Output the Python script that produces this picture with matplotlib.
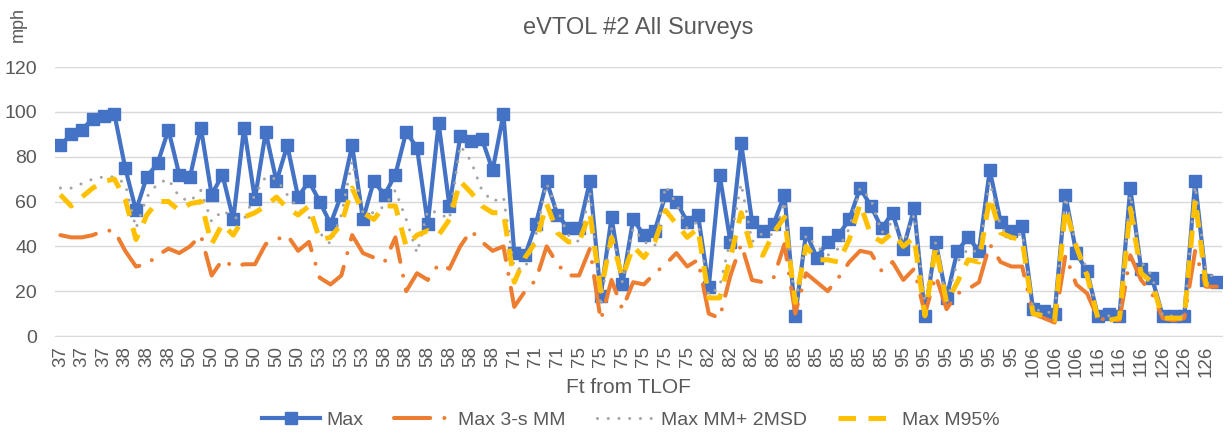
import matplotlib
matplotlib.use('Agg')
import matplotlib.pyplot as plt
import numpy as np

plt.rcParams['font.family'] = ['Liberation Sans', 'DejaVu Sans']

# category labels (ft from TLOF), one per survey point
ft = ([37] * 6 + [38] * 6 + [50] * 12 + [53] * 6 + [58] * 12 + [71] * 6 +
      [75] * 12 + [82] * 6 + [85] * 12 + [95] * 12 + [106] * 6 + [116] * 6 +
      [126] * 6)

max_mph = [85, 90, 92, 97, 98, 99, 75, 56, 71, 77, 92, 72, 71, 93, 63, 72, 52, 93,
           61, 91, 69, 85, 62, 69, 60, 50, 63, 85, 52, 69, 63, 72, 91, 84, 50, 95,
           58, 89, 87, 88, 74, 99, 37, 36, 50, 69, 54, 48, 48, 69, 18, 53, 23, 52,
           45, 47, 63, 60, 51, 54, 22, 72, 42, 86, 51, 47, 50, 63, 9, 46, 35, 42,
           45, 52, 66, 58, 48, 55, 39, 57, 9, 42, 17, 38, 44, 38, 74, 51, 47, 49,
           12, 11, 10, 63, 37, 29, 9, 10, 9, 66, 30, 26, 9, 9, 9, 69, 25, 24]

max_3s_mm = [45, 44, 44, 45, 47, 47, 38, 31, 32, 36, 39, 37, 40, 45, 27, 34, 31, 32,
             32, 41, 43, 45, 38, 42, 26, 23, 27, 45, 37, 35, 33, 44, 20, 28, 25, 32,
             30, 40, 47, 42, 38, 40, 13, 20, 25, 40, 32, 27, 27, 39, 7, 25, 12, 24,
             23, 28, 32, 37, 31, 34, 10, 8, 27, 41, 25, 24, 26, 41, 10, 28, 24, 20,
             26, 33, 38, 37, 29, 33, 25, 30, 10, 27, 12, 19, 21, 24, 41, 33, 31, 31,
             10, 8, 6, 36, 23, 19, 8, 7, 7, 36, 25, 19, 8, 7, 8, 38, 22, 22]

max_mm_2msd = [66, 66, 68, 70, 71, 71, 68, 48, 62, 68, 70, 62, 60, 65, 51, 56, 53, 52,
               63, 71, 70, 63, 57, 53, 46, 41, 54, 78, 55, 55, 58, 65, 52, 37, 56, 55,
               52, 85, 78, 65, 60, 62, 30, 30, 45, 68, 56, 45, 42, 64, 13, 48, 24, 48,
               42, 40, 67, 59, 48, 51, 18, 22, 43, 68, 42, 46, 45, 60, 13, 45, 40, 36,
               39, 48, 66, 61, 46, 51, 42, 54, 15, 42, 15, 33, 39, 37, 69, 49, 43, 46,
               12, 11, 10, 62, 40, 30, 9, 9, 9, 63, 33, 27, 9, 9, 9, 67, 30, 24]

max_m95 = [63, 58, 62, 66, 69, 70, 61, 43, 54, 60, 60, 56, 59, 60, 41, 50, 45, 53,
           55, 58, 62, 57, 54, 58, 43, 44, 50, 66, 55, 52, 58, 58, 40, 45, 47, 45,
           52, 69, 64, 58, 55, 55, 24, 35, 42, 59, 46, 42, 42, 55, 20, 44, 26, 40,
           35, 42, 56, 50, 44, 48, 17, 17, 35, 55, 38, 36, 46, 53, 15, 40, 34, 34,
           33, 43, 59, 45, 42, 46, 40, 44, 9, 40, 15, 24, 34, 33, 62, 46, 44, 43,
           10, 9, 7, 57, 40, 27, 8, 7, 8, 57, 28, 24, 8, 8, 8, 61, 23, 22]

x = np.arange(len(ft))

fig = plt.figure(figsize=(12.32, 4.42), dpi=100)
ax = fig.add_axes([0.0446, 0.2398, 0.9474, 0.6086])

ax.plot(x, max_mph, color='#4472C4', lw=3.0, marker='s', ms=8,
        label='Max', zorder=3)
ax.plot(x, max_3s_mm, color='#ED7D31', lw=2.9, dash_capstyle='round',
        linestyle=(0, (9, 3.5, 0.01, 3.5)), label='Max 3-s MM', zorder=4)
ax.plot(x, max_mm_2msd, color='#A5A5A5', lw=2.2, dash_capstyle='round',
        linestyle=(0, (0.01, 3.5)), label='Max MM+ 2MSD', zorder=5)
ax.plot(x, max_m95, color='#FFC000', lw=3.6, linestyle=(0, (3.5, 2.5)),
        label='Max M95%', zorder=6)

ax.set_xlim(-0.5, len(ft) - 0.5)
ax.set_ylim(0, 120)
ax.set_yticks(range(0, 121, 20))
ax.set_xticks(x[::2])
ax.set_xticklabels([str(v) for v in ft[::2]], rotation=90)
ax.tick_params(axis='x', length=0, pad=7, labelsize=13.5, labelcolor='#595959')
ax.tick_params(axis='y', length=0, pad=13, labelsize=14, labelcolor='#595959')
ax.grid(axis='y', color='#D9D9D9', lw=1)
ax.set_axisbelow(True)
for s in ['top', 'right', 'left']:
    ax.spines[s].set_visible(False)
ax.spines['bottom'].set_color('#D9D9D9')

ax.set_title('eVTOL #2 All Surveys', fontsize=17, color='#595959', pad=24)
fig.text(0.008, 0.985, 'mph', rotation=90, va='top', ha='left',
         fontsize=13, color='#595959')
fig.text(0.51, 0.124, 'Ft from TLOF', ha='center', va='center',
         fontsize=15, color='#595959')

leg = fig.legend(loc='center', bbox_to_anchor=(0.512, 0.05), ncol=4,
                 frameon=False, fontsize=14, handlelength=3.0,
                 handletextpad=0.3, columnspacing=1.6)
for t in leg.get_texts():
    t.set_color('#595959')

fig.savefig('out.png', dpi=100)
